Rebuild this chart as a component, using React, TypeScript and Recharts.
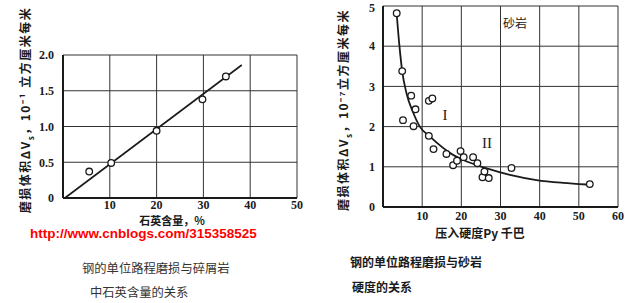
import {
  ComposedChart,
  Scatter,
  Line,
  XAxis,
  YAxis,
  CartesianGrid,
} from 'recharts'

// Left chart: wear vs quartz content
const quartzPoints = [
  { x: 5.6, y: 0.37 },
  { x: 10.3, y: 0.49 },
  { x: 20.0, y: 0.94 },
  { x: 29.8, y: 1.38 },
  { x: 34.8, y: 1.7 },
]
const quartzFit = [
  { x: 0.4, y: 0 },
  { x: 38.2, y: 1.86 },
]
const quartzXTicks = [0, 10, 20, 30, 40, 50]
const quartzYTicks = [0, 0.5, 1, 1.5, 2]

// Right chart: wear vs sandstone hardness
const hardnessPoints = [
  { x: 3.5, y: 4.82 },
  { x: 4.9, y: 3.38 },
  { x: 5.1, y: 2.16 },
  { x: 7.2, y: 2.77 },
  { x: 7.8, y: 2.01 },
  { x: 8.3, y: 2.43 },
  { x: 11.7, y: 2.64 },
  { x: 12.6, y: 2.7 },
  { x: 11.7, y: 1.77 },
  { x: 12.9, y: 1.44 },
  { x: 16.2, y: 1.32 },
  { x: 17.9, y: 1.04 },
  { x: 18.9, y: 1.15 },
  { x: 19.8, y: 1.39 },
  { x: 20.6, y: 1.24 },
  { x: 23.0, y: 1.24 },
  { x: 24.1, y: 1.09 },
  { x: 25.4, y: 0.74 },
  { x: 25.9, y: 0.88 },
  { x: 27.0, y: 0.72 },
  { x: 32.8, y: 0.97 },
  { x: 52.8, y: 0.57 },
]
const hardnessCurve = [
  { x: 3.5, y: 4.8 },
  { x: 4.2, y: 4.0 },
  { x: 4.9, y: 3.38 },
  { x: 6.0, y: 2.83 },
  { x: 7.7, y: 2.35 },
  { x: 9.4, y: 2.0 },
  { x: 12.0, y: 1.75 },
  { x: 18.0, y: 1.29 },
  { x: 20.5, y: 1.17 },
  { x: 26.5, y: 0.96 },
  { x: 32.4, y: 0.8 },
  { x: 39.2, y: 0.67 },
  { x: 46.0, y: 0.6 },
  { x: 52.0, y: 0.56 },
]
const hardnessXTicks = [0, 10, 20, 30, 40, 50, 60]
const hardnessYTicks = [0, 1, 2, 3, 4, 5]

const INK = '#1a1a1a'
const TICK_STYLE = {
  fontSize: 12,
  fontFamily: 'Liberation Serif',
  fontWeight: 'bold' as const,
  fill: INK,
}
const CJK = '"Noto Sans CJK SC", sans-serif'

const OpenDot = (props: any) => {
  const { cx, cy } = props
  if (cx == null || cy == null) return null
  return <circle cx={cx} cy={cy} r={3.3} fill="#fff" stroke={INK} strokeWidth={1.3} />
}

const frameLine = { stroke: INK, strokeWidth: 2 }

function QuartzChart() {
  return (
    <ComposedChart
      width={320}
      height={240}
      margin={{ top: 55, right: 23, bottom: 22, left: 33 }}
    >
      <CartesianGrid stroke="#333" strokeWidth={1} />
      <XAxis
        dataKey="x"
        type="number"
        domain={[0, 50]}
        ticks={quartzXTicks}
        tickFormatter={v => (v === 0 ? '' : String(v))}
        tick={TICK_STYLE}
        tickLine={false}
        tickSize={0}
        tickMargin={2}
        height={20}
        axisLine={frameLine}
      />
      <XAxis xAxisId="top" orientation="top" type="number" domain={[0, 50]} height={0} tick={false} axisLine={frameLine} />
      <YAxis
        dataKey="y"
        type="number"
        domain={[0, 2]}
        ticks={quartzYTicks}
        tickFormatter={v => (v === 0 ? '0' : v.toFixed(1))}
        tick={TICK_STYLE}
        tickLine={false}
        tickSize={0}
        tickMargin={9}
        width={30}
        axisLine={frameLine}
      />
      <YAxis yAxisId="right" orientation="right" type="number" domain={[0, 2]} width={0} tick={false} axisLine={frameLine} />
      <Line
        data={quartzFit}
        dataKey="y"
        type="linear"
        stroke={INK}
        strokeWidth={1.6}
        dot={false}
        isAnimationActive={false}
      />
      <Scatter data={quartzPoints} dataKey="y" shape={OpenDot} isAnimationActive={false} />
    </ComposedChart>
  )
}

function HardnessChart() {
  return (
    <ComposedChart
      width={306}
      height={240}
      margin={{ top: 6, right: 8, bottom: 13, left: 33 }}
    >
      <CartesianGrid stroke="#333" strokeWidth={1} />
      <XAxis
        dataKey="x"
        type="number"
        domain={[0, 60]}
        ticks={hardnessXTicks}
        tickFormatter={v => (v === 0 ? '' : String(v))}
        tick={TICK_STYLE}
        tickLine={false}
        tickSize={0}
        tickMargin={4}
        height={20}
        axisLine={frameLine}
      />
      <XAxis xAxisId="top" orientation="top" type="number" domain={[0, 60]} height={0} tick={false} axisLine={frameLine} />
      <YAxis
        dataKey="y"
        type="number"
        domain={[0, 5]}
        ticks={hardnessYTicks}
        tick={TICK_STYLE}
        tickLine={false}
        tickSize={0}
        tickMargin={8}
        width={30}
        axisLine={frameLine}
      />
      <YAxis yAxisId="right" orientation="right" type="number" domain={[0, 5]} width={0} tick={false} axisLine={frameLine} />
      <Line
        data={hardnessCurve}
        dataKey="y"
        type="monotone"
        stroke={INK}
        strokeWidth={1.8}
        dot={false}
        isAnimationActive={false}
      />
      <Scatter data={hardnessPoints} dataKey="y" shape={OpenDot} isAnimationActive={false} />
    </ComposedChart>
  )
}

const abs = (left: number, top: number, extra: any = {}) => ({
  position: 'absolute' as const,
  left,
  top,
  whiteSpace: 'nowrap' as const,
  lineHeight: 1,
  ...extra,
})

export default function App() {
  return (
    <div
      style={{
        position: 'absolute',
        left: 0,
        top: 0,
        width: 626,
        height: 303,
        background: '#fff',
        overflow: 'hidden',
        color: INK,
      }}
    >
      <div style={abs(0, 0)}>
        <QuartzChart />
      </div>
      <div style={abs(320, 0)}>
        <HardnessChart />
      </div>

      {/* left y axis name */}
      <div
        style={abs(27, 110, {
          fontFamily: CJK,
          fontSize: 12,
          fontWeight: 'bold',
          letterSpacing: 1.5,
          transform: 'translate(-50%, -50%) rotate(-90deg)',
        })}
      >
        磨损体积ΔV<sub style={{ fontSize: 8 }}>s</sub>，10⁻¹ 立方厘米每米
      </div>
      {/* right y axis name */}
      <div
        style={abs(345, 110, {
          fontFamily: CJK,
          fontSize: 12,
          fontWeight: 'bold',
          letterSpacing: 1.5,
          transform: 'translate(-50%, -50%) rotate(-90deg)',
        })}
      >
        磨损体积ΔV<sub style={{ fontSize: 8 }}>s</sub>，10⁻⁷立方厘米每米
      </div>

      <div style={abs(172, 219.5, { fontFamily: CJK, fontSize: 11, fontWeight: 'bold', transform: 'translate(-50%, -50%)' })}>
        石英含量，%
      </div>
      <div style={abs(480, 233, { fontFamily: CJK, fontSize: 12, fontWeight: 'bold', transform: 'translate(-50%, -50%)' })}>
        压入硬度Py 千巴
      </div>

      <div style={abs(515, 23, { fontFamily: CJK, fontSize: 12, transform: 'translate(-50%, -50%)' })}>砂岩</div>
      <div style={abs(445, 115, { fontFamily: 'Liberation Serif', fontSize: 15, transform: 'translate(-50%, -50%)' })}>I</div>
      <div style={abs(487, 143, { fontFamily: 'Liberation Serif', fontSize: 15, transform: 'translate(-50%, -50%)' })}>II</div>

      <div
        style={abs(30, 234, {
          fontFamily: '"Liberation Sans", Arial, sans-serif',
          fontSize: 13.5,
          fontWeight: 'bold',
          color: '#f00',
          transform: 'translateY(-50%)',
        })}
      >
        http://www.cnblogs.com/315358525
      </div>

      <div style={abs(82, 268, { fontFamily: CJK, fontSize: 12.3, color: '#333', transform: 'translateY(-50%)' })}>
        钢的单位路程磨损与碎屑岩
      </div>
      <div style={abs(90, 292, { fontFamily: CJK, fontSize: 12.3, color: '#333', transform: 'translateY(-50%)' })}>
        中石英含量的关系
      </div>
      <div style={abs(350, 262, { fontFamily: CJK, fontSize: 12, fontWeight: 'bold', transform: 'translateY(-50%)' })}>
        钢的单位路程磨损与砂岩
      </div>
      <div style={abs(352, 287, { fontFamily: CJK, fontSize: 12, fontWeight: 'bold', transform: 'translateY(-50%)' })}>
        硬度的关系
      </div>
    </div>
  )
}
